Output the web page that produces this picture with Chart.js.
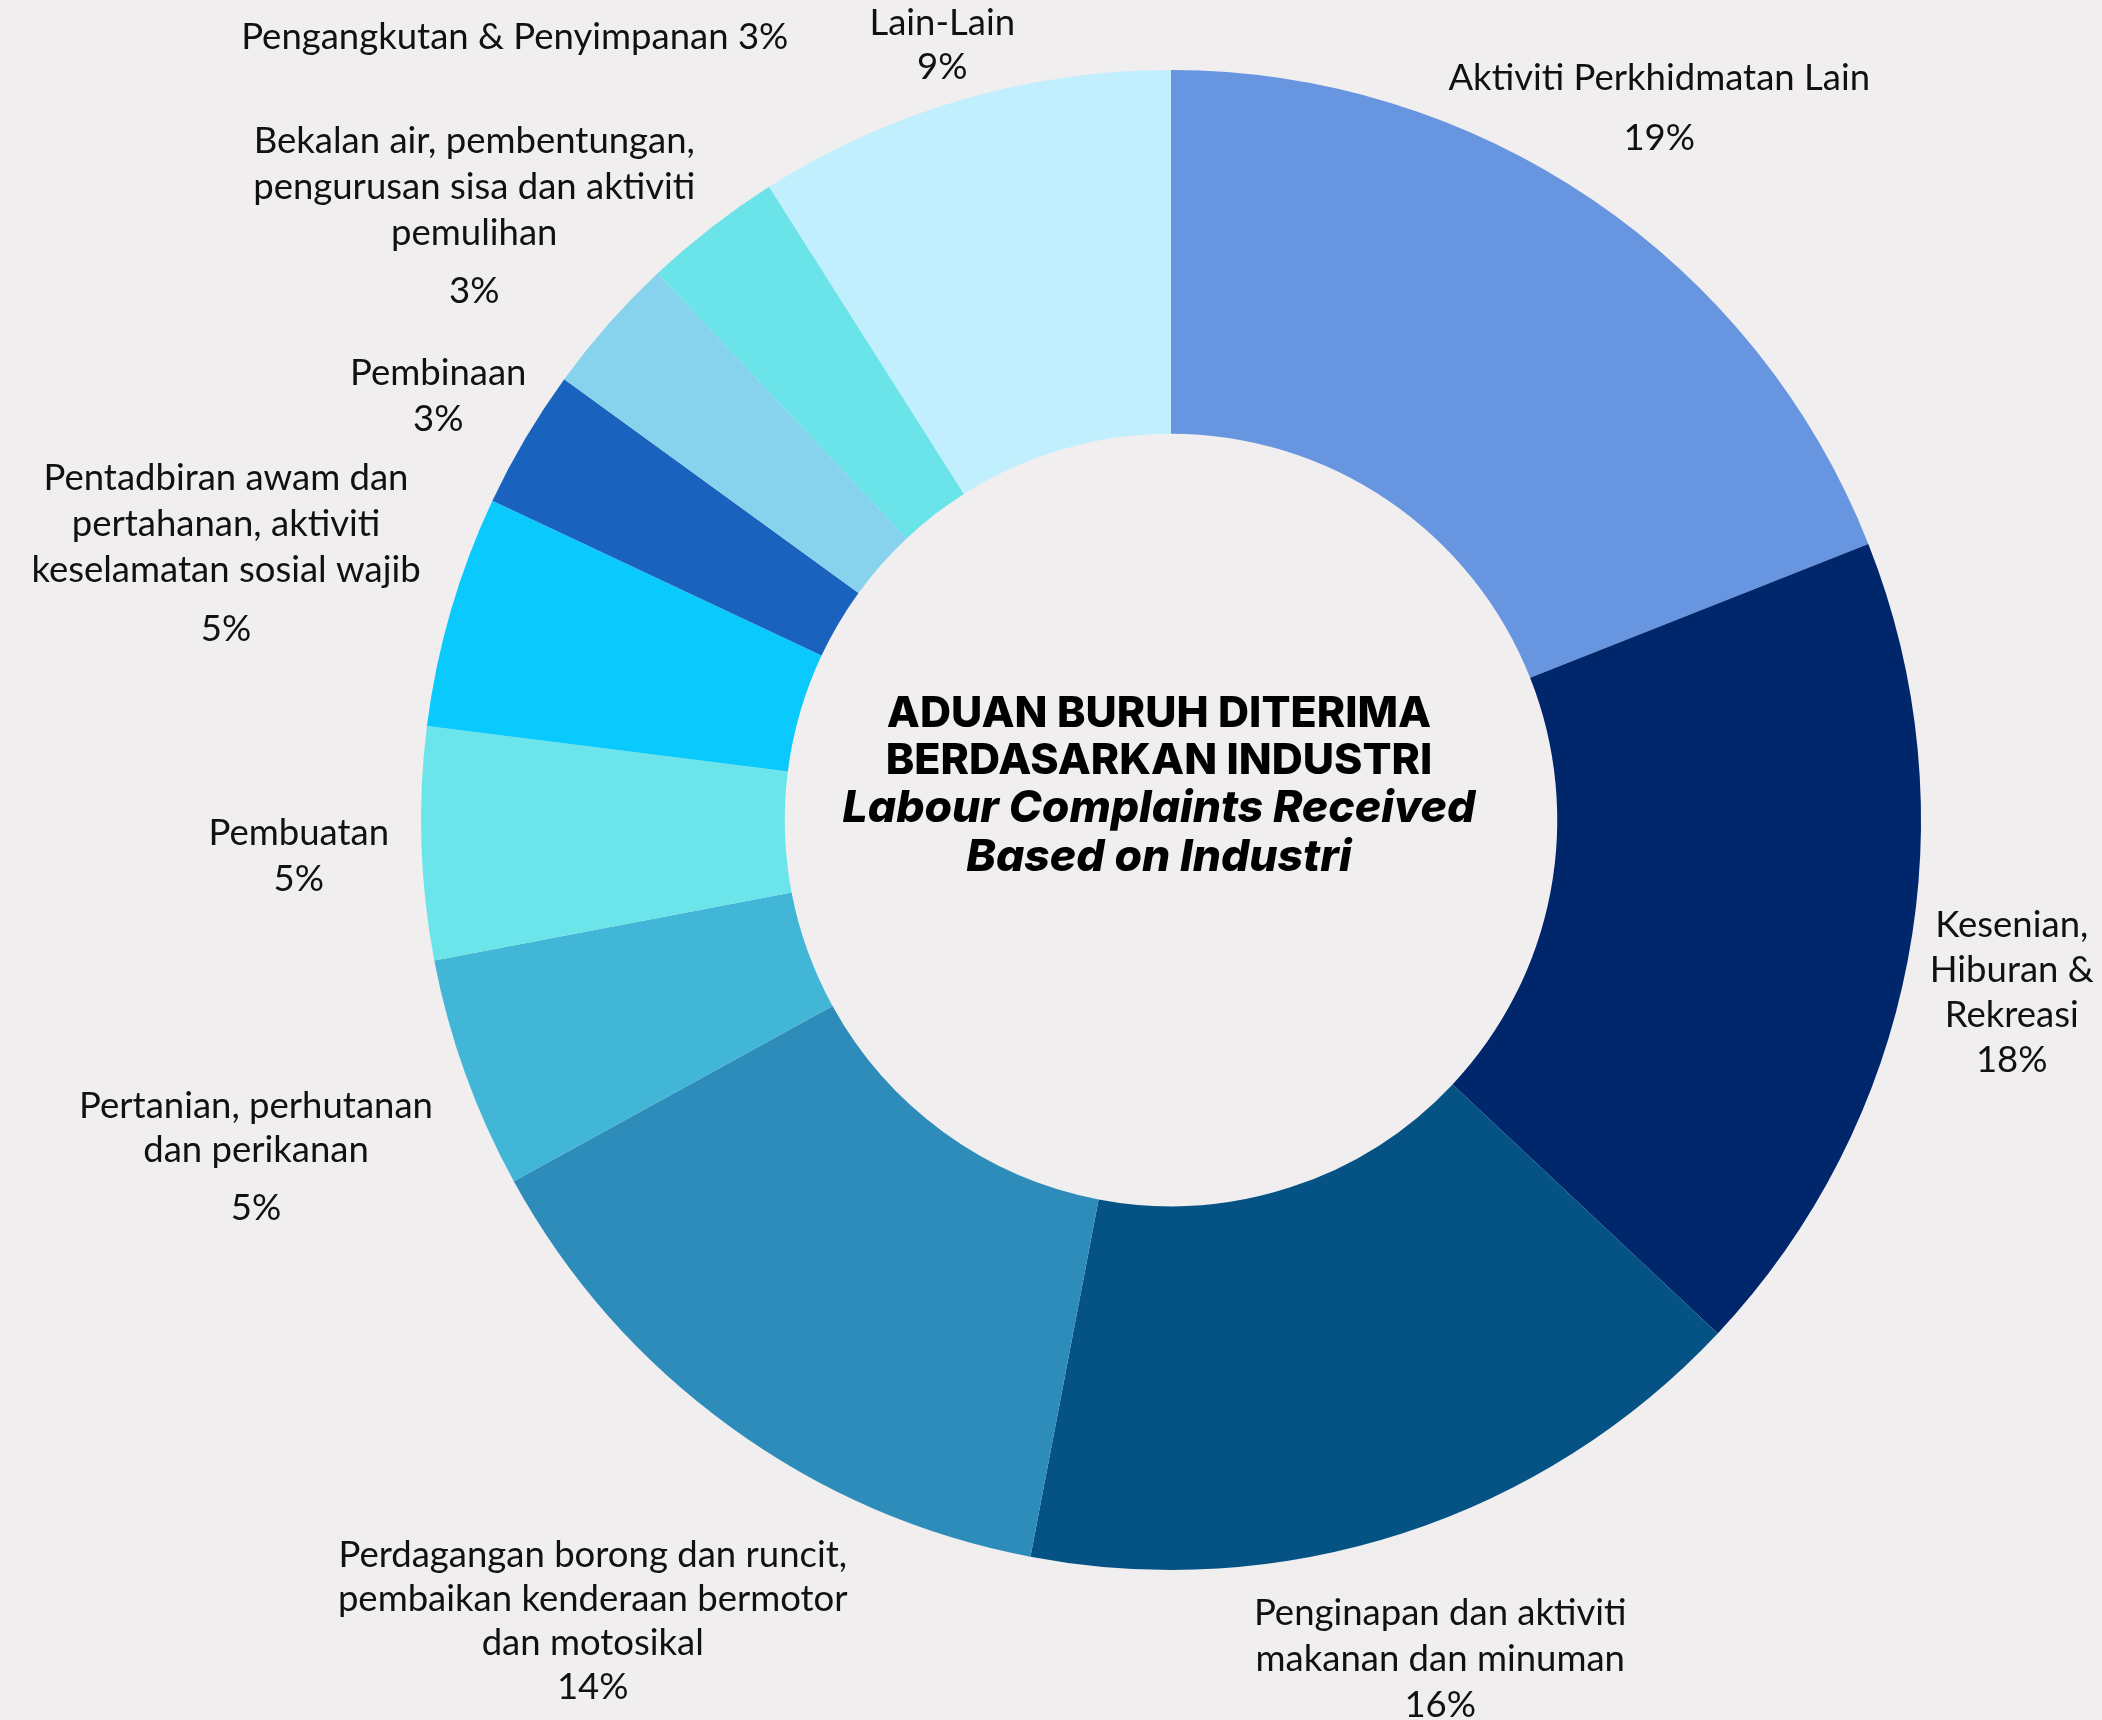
<!DOCTYPE html>
<html>
<head>
<meta charset="utf-8">
<script src="https://cdn.jsdelivr.net/npm/chart.js@4"></script>
<style>
  html, body { margin: 0; padding: 0; background: #f0eeef; }
  canvas { display: block; }
</style>
</head>
<body>
<canvas id="aduanChart" width="2102" height="1720"></canvas>
<script>
// industri (label lines), peratus aduan
const industri = [
  ["Aktiviti Perkhidmatan Lain"],
  ["Kesenian,", "Hiburan &", "Rekreasi"],
  ["Penginapan dan aktiviti", "makanan dan minuman"],
  ["Perdagangan borong dan runcit,", "pembaikan kenderaan bermotor", "dan motosikal"],
  ["Pertanian, perhutanan", "dan perikanan"],
  ["Pembuatan"],
  ["Pentadbiran awam dan", "pertahanan, aktiviti", "keselamatan sosial wajib"],
  ["Pembinaan"],
  ["Bekalan air, pembentungan,", "pengurusan sisa dan aktiviti", "pemulihan"],
  ["Pengangkutan & Penyimpanan"],
  ["Lain-Lain"]
];
const peratus = [19, 18, 16, 14, 5, 5, 5, 3, 3, 3, 9];
const warna = [
  "#6895e0", "#00276b", "#055384", "#2e8cba", "#42b6d6", "#6be5ea",
  "#0acafd", "#1963bf", "#87d2ec", "#6ae4e9", "#c2effd"
];

// where each label block sits, as fractions of the outer radius from the centre
// [fx, fy, lineHeight, extra gap before the % line]
const letakLabel = [
  [0.651, -0.989, 45, 15],
  [1.121, 0.140, 45, 0],
  [0.359, 1.057, 46, 0],
  [-0.771, 0.980, 44, 0],
  [-1.220, 0.381, 44, 14],
  [-1.163, 0.017, 46, 0],
  [-1.260, -0.456, 46, 13],
  [-0.977, -0.596, 46, 0],
  [-0.929, -0.905, 46, 12],
  [-0.875, -1.044, 46, 0],
  [-0.305, -1.063, 44, 0]
];

const labelFont = '36.5px Lato';

const labelPlugin = {
  id: 'labelLuar',
  afterDatasetsDraw(chart) {
    const ctx = chart.ctx;
    const arc = chart.getDatasetMeta(0).data[0];
    const cx = arc.x, cy = arc.y, R = arc.outerRadius;
    ctx.save();
    ctx.fillStyle = '#111';
    ctx.font = labelFont;
    ctx.textAlign = 'center';
    ctx.textBaseline = 'middle';
    industri.forEach((lines, i) => {
      const p = letakLabel[i];
      const x = cx + p[0] * R;
      let y = cy + p[1] * R;
      const pct = peratus[i] + '%';
      if (lines.length === 1 && i === 9) {
        ctx.fillText(lines[0] + ' ' + pct, x, y);
        return;
      }
      lines.forEach((t) => {
        ctx.fillText(t, x, y);
        y += p[2];
      });
      ctx.fillText(pct, x, y + p[3]);
    });
    ctx.restore();
  }
};

const tajukPlugin = {
  id: 'tajukTengah',
  afterDatasetsDraw(chart) {
    const ctx = chart.ctx;
    const arc = chart.getDatasetMeta(0).data[0];
    const cx = arc.x - 12, cy = arc.y;
    ctx.save();
    ctx.fillStyle = '#000';
    ctx.textAlign = 'center';
    ctx.textBaseline = 'middle';
    ctx.font = '800 43px Inter';
    ctx.fillText('ADUAN BURUH DITERIMA', cx, cy - 106);
    ctx.fillText('BERDASARKAN INDUSTRI', cx, cy - 59);
    ctx.font = 'italic 800 44.5px Inter';
    ctx.fillText('Labour Complaints Received', cx, cy - 11);
    ctx.fillText('Based on Industri', cx, cy + 38);
    ctx.restore();
  }
};

new Chart(document.getElementById('aduanChart'), {
  type: 'doughnut',
  data: {
    labels: industri.map(l => l.join(' ')),
    datasets: [{
      data: peratus,
      backgroundColor: warna,
      borderWidth: 0
    }]
  },
  options: {
    responsive: false,
    devicePixelRatio: 1,
    animation: false,
    cutout: '51.5%',
    layout: { padding: { top: 70, bottom: 150, left: 420, right: 180 } },
    plugins: {
      legend: { display: false },
      tooltip: { enabled: false }
    }
  },
  plugins: [labelPlugin, tajukPlugin]
});
</script>
</body>
</html>
